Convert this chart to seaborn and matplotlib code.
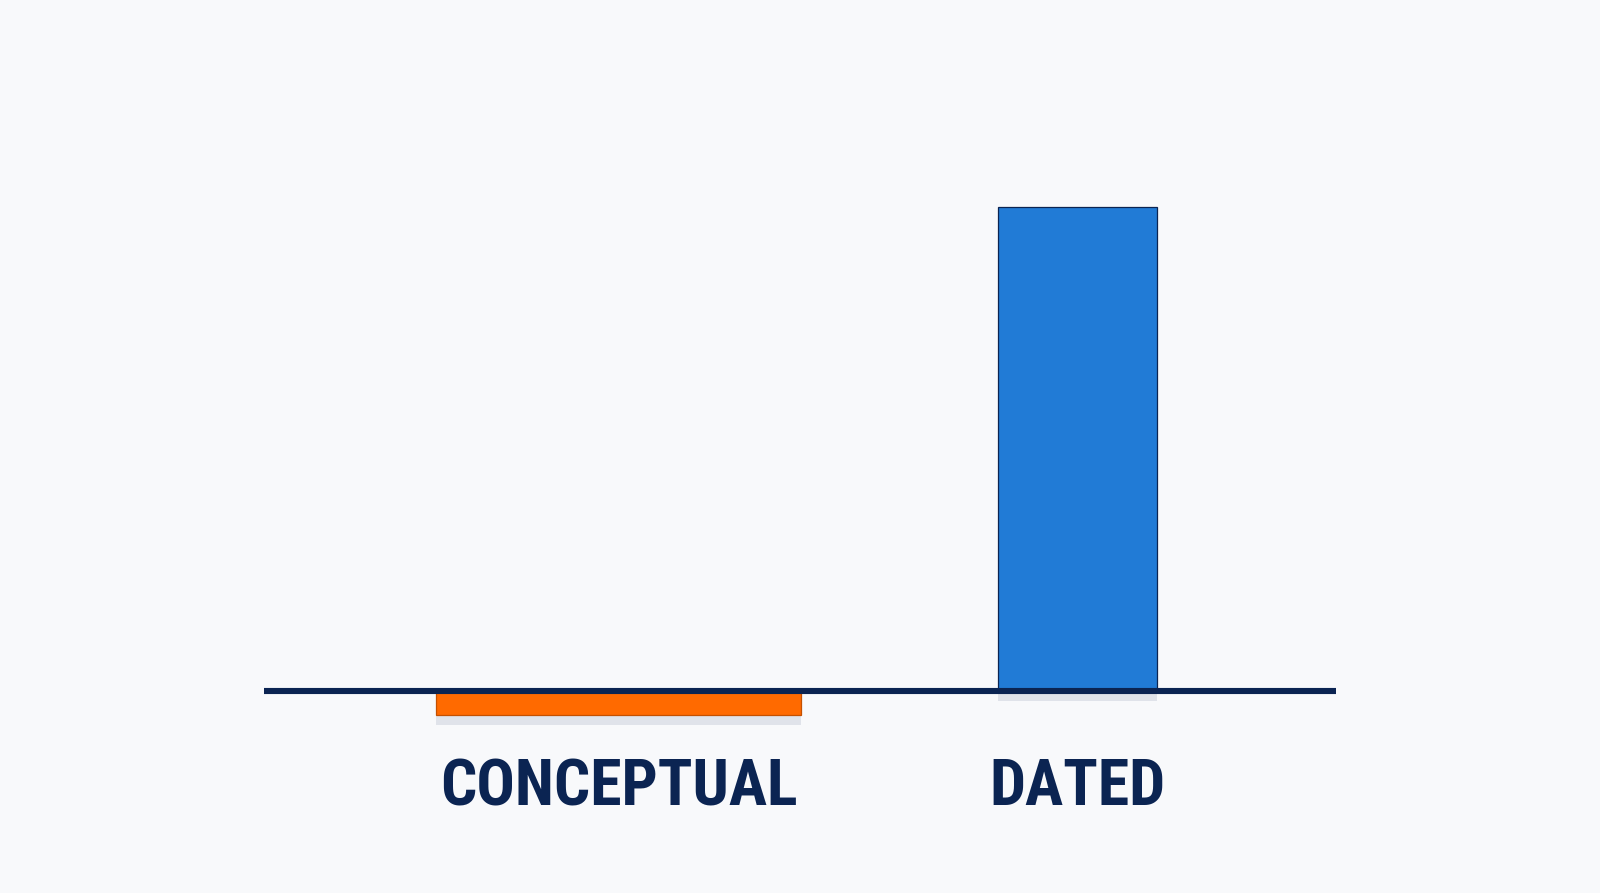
import matplotlib
matplotlib.use("Agg")
import matplotlib.pyplot as plt
import seaborn as sns
import pandas as pd
from matplotlib import font_manager
from matplotlib import patheffects as pe

# ---- data ----
categories = ["CONCEPTUAL", "DATED"]
values = [-5, 100]
bar_colors = ["#FF6A00", "#217BD6"]
edge_colors = ["#C45000", "#0B2452"]

# ---- style ----
BG = "#F8F9FB"
NAVY = "#0B2452"

sns.set_theme(style="white")


def pick_font():
    prefs = ["roboto condensed", "liberation sans narrow", "dejavu sans condensed",
             "noto sans condensed", "open sans condensed"]
    entries = font_manager.fontManager.ttflist
    for p in prefs:
        for e in entries:
            fn = e.fname.lower().replace("-", " ").replace("_", " ")
            key = p.replace(" ", "")
            if key in fn.replace(" ", "") and ("bold" in fn) and "italic" not in fn and "oblique" not in fn \
                    and "extra" not in fn and "semi" not in fn:
                return font_manager.FontProperties(fname=e.fname), True
    return font_manager.FontProperties(family="Roboto", weight="bold"), False


fp, condensed = pick_font()

W, H = 1600, 893
fig = plt.figure(figsize=(16, 8.93), dpi=100, facecolor=BG)
ax_left, ax_right, ax_top, ax_bottom = 264, 1336, 150, 735
ax = fig.add_axes([ax_left / W, 1 - ax_bottom / H, (ax_right - ax_left) / W, (ax_bottom - ax_top) / H])
ax.set_facecolor("none")

df = pd.DataFrame({"category": categories, "value": values})
sns.barplot(data=df, x="category", y="value", hue="category", palette=bar_colors,
            legend=False, ax=ax, width=0.8, saturation=1, zorder=2)

bar_widths = [0.795, 0.346]
for patch, w, ec in zip(ax.patches, bar_widths, edge_colors):
    c = patch.get_x() + patch.get_width() / 2
    patch.set_width(w)
    patch.set_x(c - w / 2)
    patch.set_edgecolor(ec)
    patch.set_linewidth(0.9)
    patch.set_path_effects([
        pe.SimplePatchShadow(offset=(0, -7), shadow_rgbFace="#8E98AE", alpha=0.22),
        pe.Normal(),
    ])

ax.axhline(0, color=NAVY, lw=4.4, solid_capstyle="round", zorder=3)

ppu = (691 - 207) / 100
ax.set_xlim(-0.772, 1.563)
ax.set_ylim(-(ax_bottom - 691) / ppu, (691 - ax_top) / ppu)

for s in ax.spines.values():
    s.set_visible(False)
ax.set_yticks([])
ax.set_xlabel("")
ax.set_ylabel("")
ax.set_xticks(range(len(categories)))
size = 46 if condensed else 38
ax.set_xticklabels(categories, fontproperties=fp, fontsize=size, color=NAVY)
ax.tick_params(axis="x", length=0, pad=16)

fig.savefig("out.png", dpi=100, facecolor=BG)
